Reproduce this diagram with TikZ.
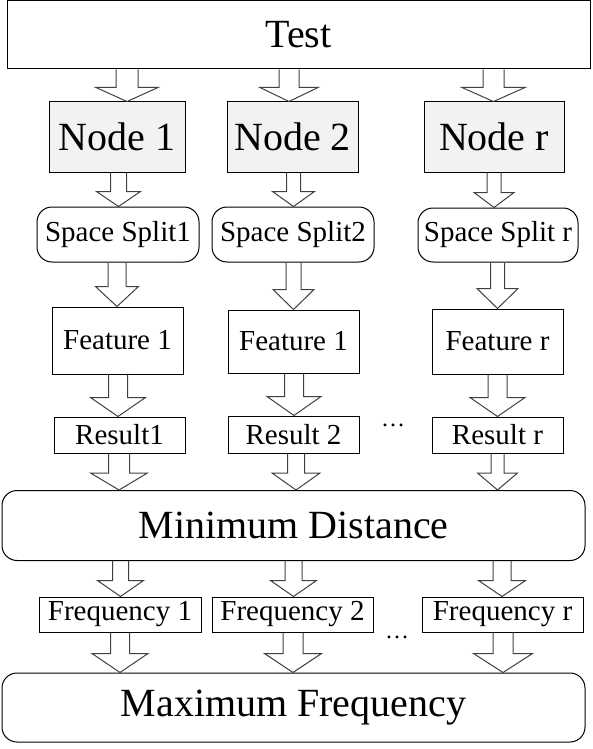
\documentclass[tikz,border=0pt]{standalone}
\usepackage{fontspec}
\setmainfont{Liberation Serif}
\usetikzlibrary{calc}

\tikzset{
  box/.style={draw, line width=1pt, inner sep=0pt, font=\fontsize{29}{30}\selectfont},
  bigbox/.style={box, font=\fontsize{40}{41}\selectfont},
  roundbox/.style={rounded corners=15pt},
  fat/.style={draw=black!75, line width=1pt, line join=miter},
}
% #1 from, #2 to, #3 x, #4 shaft, #5 head, #6 head length
\newcommand{\fatarrow}[6]{%
  \path (#1.south -| #3,0) coordinate (base) (#2.north -| #3,0) coordinate (tip);
  \draw[fat] ($(base)+(-#4,0)$) -- ($(tip)+(-#4,-#6)$) -- ($(tip)+(-#5,-#6)$)
    -- (tip) -- ($(tip)+(#5,-#6)$) -- ($(tip)+(#4,-#6)$) -- ($(base)+(#4,0)$);}

\begin{document}
\begin{tikzpicture}[x=1pt, y=-1pt]
\useasboundingbox (0,0) rectangle (592,749);
% blocks
\node [bigbox, minimum width=583, minimum height=68] (test) at (298.5,35) {Test};
\node [bigbox, fill=gray!10, minimum width=136, minimum height=70] (n1) at (117,137) {Node 1};
\node [bigbox, fill=gray!10, minimum width=131, minimum height=70] (n2) at (292.5,137) {Node 2};
\node [bigbox, fill=gray!10, minimum width=140, minimum height=70] (nr) at (494,137) {Node r};
\node [box, roundbox, minimum width=162, minimum height=55] (s1) at (118,234.5) {Space Split1};
\node [box, roundbox, minimum width=162, minimum height=55] (s2) at (293,234.5) {Space Split2};
\node [box, roundbox, minimum width=160, minimum height=54] (sr) at (498,235) {Space Split r};
\node [box, minimum width=131, minimum height=67] (f1) at (117.5,340.5) {Feature 1};
\node [box, minimum width=131, minimum height=63] (f2) at (293.5,341.5) {Feature 1};
\node [box, minimum width=131, minimum height=65] (fr) at (497.5,341.5) {Feature r};
\node [box, minimum width=131, minimum height=36] (r1) at (119.5,435) {Result1};
\node [box, minimum width=131, minimum height=37] (r2) at (293.5,434.5) {Result 2};
\node [box, minimum width=131, minimum height=36] (rr) at (497.5,435) {Result r};
\node [font=\fontsize{24}{24}\selectfont, inner sep=0pt] (dots1) at (393,425) {…};
\node [bigbox, roundbox, minimum width=583, minimum height=70] (md) at (293.5,525.5) {Minimum Distance};
\node [box, minimum width=162, minimum height=35] (q1) at (120,614.5) {Frequency 1};
\node [box, minimum width=161, minimum height=35] (q2) at (292.5,614.5) {Frequency 2};
\node [box, minimum width=161, minimum height=35] (qr) at (502.5,614.5) {Frequency r};
\node [font=\fontsize{24}{24}\selectfont, inner sep=0pt] (dots2) at (397,637) {…};
\node [bigbox, roundbox, minimum width=583, minimum height=69] (mx) at (293.5,707.5) {Maximum Frequency};
% arrows
\fatarrow{test}{n1}{127}{11}{31}{14}
\fatarrow{test}{n2}{289}{10}{29}{14}
\fatarrow{test}{nr}{493.5}{10.5}{31.5}{14}
\fatarrow{n1}{s1}{118.5}{8}{22}{15}
\fatarrow{n2}{s2}{293.5}{7}{21}{15}
\fatarrow{nr}{sr}{494}{7}{20}{15}
\fatarrow{s1}{f1}{117}{9}{21.5}{20}
\fatarrow{s2}{f2}{293.5}{7.5}{20.5}{20}
\fatarrow{sr}{fr}{497.5}{7}{20.5}{20}
\fatarrow{f1}{r1}{118}{9.5}{27.5}{19}
\fatarrow{f2}{r2}{294}{9.5}{27}{19}
\fatarrow{fr}{rr}{497.5}{9.5}{27.5}{19}
\fatarrow{r1}{md}{119}{10.5}{28.5}{17}
\fatarrow{r2}{md}{296}{8.5}{24}{17}
\fatarrow{rr}{md}{497.5}{6.5}{20}{17}
\fatarrow{md}{q1}{120.5}{8}{23}{16}
\fatarrow{md}{q2}{293.5}{8.5}{23}{16}
\fatarrow{md}{qr}{502}{9}{23.5}{16}
\fatarrow{q1}{mx}{120}{9.5}{28}{19}
\fatarrow{q2}{mx}{293}{10}{28.5}{19}
\fatarrow{qr}{mx}{503}{10}{29.5}{19}
\end{tikzpicture}
\end{document}
